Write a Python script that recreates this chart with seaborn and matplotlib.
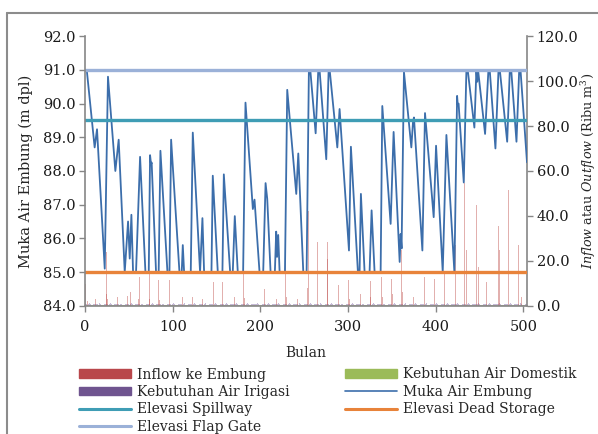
import numpy as np
import pandas as pd
import matplotlib
matplotlib.use("Agg")
import matplotlib.pyplot as plt
from matplotlib.patches import Patch
from matplotlib.lines import Line2D
import seaborn as sns

# ---------------- data ----------------
level_months = [0, 2, 11, 13.7, 22.5, 26.2, 34.6, 38.4, 45.3, 49.1, 51, 52.9, 54.8, 58.2,
                62.8, 68.9, 72.7, 74.2, 75.3, 76, 81, 84, 86, 94, 96.3, 98.2, 107.7, 110.3,
                111.5, 113, 120.6, 122.9, 131.2, 133.9, 135.8, 144.2, 145.7, 151.4, 156.7,
                158.3, 165.5, 168.5, 170.8, 174.2, 180.3, 183, 191.4, 193.3, 199, 203.2,
                205.9, 207.8, 211.6, 216.5, 218, 219, 220.3, 221.9, 228, 230.6, 240.9, 243.2,
                248.9, 252.7, 255.3, 256.9, 263, 266, 267.5, 275.1, 277.8, 279, 287.7, 290.3,
                301, 303.2, 311.2, 313.1, 314.6, 318.8, 324.5, 326.8, 330.2, 337.1, 339,
                348.5, 351.9, 358.8, 359.9, 361, 363.7, 372.1, 374, 375.1, 384.7, 387.7,
                397.6, 400.3, 407.9, 412.1, 421.2, 424.3, 425, 426, 431.9, 434.9, 436.4, 444,
                446.3, 447.2, 448.2, 456.2, 460, 461.5, 468, 471.5, 473, 481.4, 484.4, 486,
                492, 495.1, 496.6, 504]
level_values = [91.0, 91.0, 88.7, 89.24, 85.1, 90.8, 88.0, 88.93, 85.0, 86.5, 85.4, 86.7, 85.0, 85.0,
                88.42, 85.0, 85.0, 88.47, 88.2, 88.25, 85.0, 85.0, 88.6, 85.0, 85.0, 88.93, 85.0, 85.0,
                85.8, 85.0, 85.0, 89.14, 85.0, 86.6, 85.0, 85.0, 87.86, 85.0, 85.0,
                87.9, 85.0, 85.0, 86.66, 85.0, 85.0, 90.03, 86.87, 87.15, 85.0, 85.0,
                87.64, 87.17, 85.0, 85.0, 86.2, 85.45, 86.1, 85.0, 85.0, 90.41, 87.32, 88.52,
                85.0, 85.0, 91.0, 91.0, 89.12, 91.0, 91.0, 88.35, 91.0, 91.0, 88.7, 89.84,
                85.64, 88.72, 85.0, 85.0, 87.32, 85.0, 85.0, 86.83, 85.0, 85.0, 89.93,
                86.43, 89.16, 85.3, 86.13, 85.7, 90.94, 88.7, 89.45, 89.59, 85.64, 89.72,
                86.63, 88.75, 85.0, 89.07, 85.0, 90.23, 89.98, 90.0, 87.66, 91.0, 91.0, 89.29,
                91.0, 90.65, 91.0, 89.1, 91.0, 91.0, 88.67, 91.0, 91.0, 88.87, 91.0, 91.0,
                88.87, 91.0, 91.0, 88.26]

inflow_months = [1, 3, 12, 24, 25, 26, 37, 49, 52, 61, 62, 73, 74, 84, 85, 96, 111, 122, 123,
                 134, 146, 157, 170, 181, 182, 205, 218, 229, 230, 242, 254, 255, 265, 276,
                 277, 289, 301, 302, 314, 325, 326, 338, 339, 350, 351, 361, 362, 375, 387,
                 399, 410, 422, 433, 435, 446, 449, 458, 471, 473, 483, 494, 498]
inflow_values = [9.7, 2.0, 3.0, 5.0, 23.9, 3.0, 3.7, 4.5, 6.0, 3.0, 12.7, 14.9, 3.0, 11.5, 2.5,
                 11.5, 4.0, 19.0, 4.0, 3.0, 10.4, 10.4, 3.7, 14.2, 3.5, 7.5, 3.0, 19.7, 4.0,
                 3.0, 8.0, 42.3, 28.4, 28.4, 21.0, 9.0, 11.5, 3.0, 5.2, 4.0, 11.0, 13.0, 4.0,
                 12.0, 5.0, 24.6, 6.0, 3.7, 12.7, 12.0, 15.4, 26.9, 54.5, 24.6, 44.8, 17.2,
                 10.5, 35.4, 24.6, 51.5, 26.9, 4.0]

# monthly demand pattern (Jan..Dec), repeated every year
irrigation_monthly = [0.8, 0.6, 0.5, 0.9, 1.0, 0.7, 0.4, 0.3, 0.5, 0.8, 0.9, 0.7]
domestic_monthly = [0.15] * 12
n_months = 504

elev_spillway = 89.5
elev_dead = 85.0
elev_flap = 91.0

x_ticks = [0, 100, 200, 300, 400, 500]
left_ticks = [84, 85, 86, 87, 88, 89, 90, 91, 92]
right_ticks = [0, 20, 40, 60, 80, 100, 120]

# ---------------- style ----------------
sns.set_theme(style="white")
plt.rcParams['font.family'] = ['DejaVu Serif']
plt.rcParams['mathtext.fontset'] = 'custom'
plt.rcParams['mathtext.rm'] = 'DejaVu Serif'
plt.rcParams['mathtext.it'] = 'DejaVu Serif:italic'
FS = 10
TFS = 10.5

c_inflow = '#c0504d'
c_dom = '#9bbb59'
c_irr = '#8064a2'
c_level = '#3c6eab'
c_spill = '#3f9db5'
c_dead = '#e8833a'
c_flap = '#9bb1d8'
c_spine = '#868686'

fig = plt.figure(figsize=(5.98, 4.34), dpi=100)
W, H = 598, 434
L, R, T, B = 85, 527, 36.3, 305.7
ax = fig.add_axes([L / W, 1 - B / H, (R - L) / W, (B - T) / H])
ax2 = ax.twinx()
ax.set_zorder(ax2.get_zorder() + 1)
ax.patch.set_visible(False)

# bars (right axis)
all_months = np.arange(1, n_months + 1)
irr = np.tile(irrigation_monthly, n_months // 12)
dom = np.tile(domestic_monthly, n_months // 12)
ax2.bar(all_months, irr, width=1.0, color=c_irr, alpha=0.45, linewidth=0)
ax2.bar(all_months, dom, width=1.0, color=c_dom, alpha=0.45, linewidth=0)
ax2.bar(inflow_months, inflow_values, width=1.1, color=c_inflow, alpha=0.45, linewidth=0)

# lines (left axis)
df = pd.DataFrame({'Bulan': level_months, 'Muka': level_values})
sns.lineplot(data=df, x='Bulan', y='Muka', ax=ax, color=c_level, lw=1.3)
ax.axhline(elev_spillway, color=c_spill, lw=2.4)
ax.axhline(elev_dead, color=c_dead, lw=2.4)
ax.axhline(elev_flap, color=c_flap, lw=2.4)

ax.set_xlim(0, 504)
ax.set_ylim(84, 92)
ax2.set_ylim(0, 120)
ax.set_xticks(x_ticks)
ax.set_yticks(left_ticks)
ax2.set_yticks(right_ticks)
ax.set_yticklabels([f"{v:.1f}" for v in left_ticks], fontsize=TFS)
ax2.set_yticklabels([f"{v:.1f}" for v in right_ticks], fontsize=TFS)
ax.set_xticklabels([str(v) for v in x_ticks], fontsize=TFS)

for a in (ax, ax2):
    for s in a.spines.values():
        s.set_color(c_spine)
        s.set_linewidth(1.2)
    a.spines['top'].set_visible(False)
ax.spines['right'].set_visible(False)
ax2.spines['left'].set_visible(False)
ax2.spines['bottom'].set_visible(False)
ax.tick_params(axis='y', which='major', direction='out', length=4, width=1.0,
               color=c_spine, labelcolor='#1a1a1a', pad=2.5, left=True)
ax.tick_params(axis='x', which='major', direction='out', length=4, width=1.0,
               color=c_spine, labelcolor='#1a1a1a', pad=6, bottom=True)
ax2.tick_params(axis='y', direction='out', length=4, width=1.0, color=c_spine,
                labelcolor='#1a1a1a', pad=3, right=True)

ax.set_xlabel('Bulan', fontsize=FS)
ax.set_ylabel('Muka Air Embung (m dpl)', fontsize=10.5)
ax2.set_ylabel(r'$\mathit{Inflow}$ atau $\mathit{Outflow}$ (Ribu m$^3$)', fontsize=9.2)
ax.xaxis.set_label_coords(0.5, -0.15)
ax.yaxis.set_label_coords(-0.118, 0.5)
ax2.yaxis.set_label_coords(1.118, 0.5)

# chart frame (partially visible)
fig.add_artist(Line2D([7.3 / W, 7.3 / W], [0, 1 - 12.6 / H], color='#8c8c8c', lw=1.5,
                      transform=fig.transFigure))
fig.add_artist(Line2D([7.3 / W, 1], [1 - 12.6 / H, 1 - 12.6 / H], color='#8c8c8c', lw=1.5,
                      transform=fig.transFigure))

# legend
h_inflow = Patch(color='#b9474b', label='Inflow ke Embung')
h_dom = Patch(color=c_dom, label='Kebutuhan Air Domestik')
h_irr = Patch(color='#6f548f', label='Kebutuhan Air Irigasi')
h_level = Line2D([], [], color=c_level, lw=1.2, label='Muka Air Embung')
h_spill = Line2D([], [], color=c_spill, lw=2.2, label='Elevasi Spillway')
h_dead = Line2D([], [], color=c_dead, lw=2.2, label='Elevasi Dead Storage')
h_flap = Line2D([], [], color=c_flap, lw=2.2, label='Elevasi Flap Gate')

leg_kw = dict(frameon=False, fontsize=FS, loc='upper left', borderpad=0, borderaxespad=0,
              handlelength=3.75, handleheight=0.6, handletextpad=0.4, labelspacing=0.24)
leg1 = fig.legend(handles=[h_inflow, h_irr, h_spill, h_flap],
                  bbox_to_anchor=(79 / W, 1 - 367.5 / H), **leg_kw)
leg2 = fig.legend(handles=[h_dom, h_level, h_dead],
                  bbox_to_anchor=(345 / W, 1 - 367.5 / H), **leg_kw)

fig.savefig('out.png', dpi=100)
